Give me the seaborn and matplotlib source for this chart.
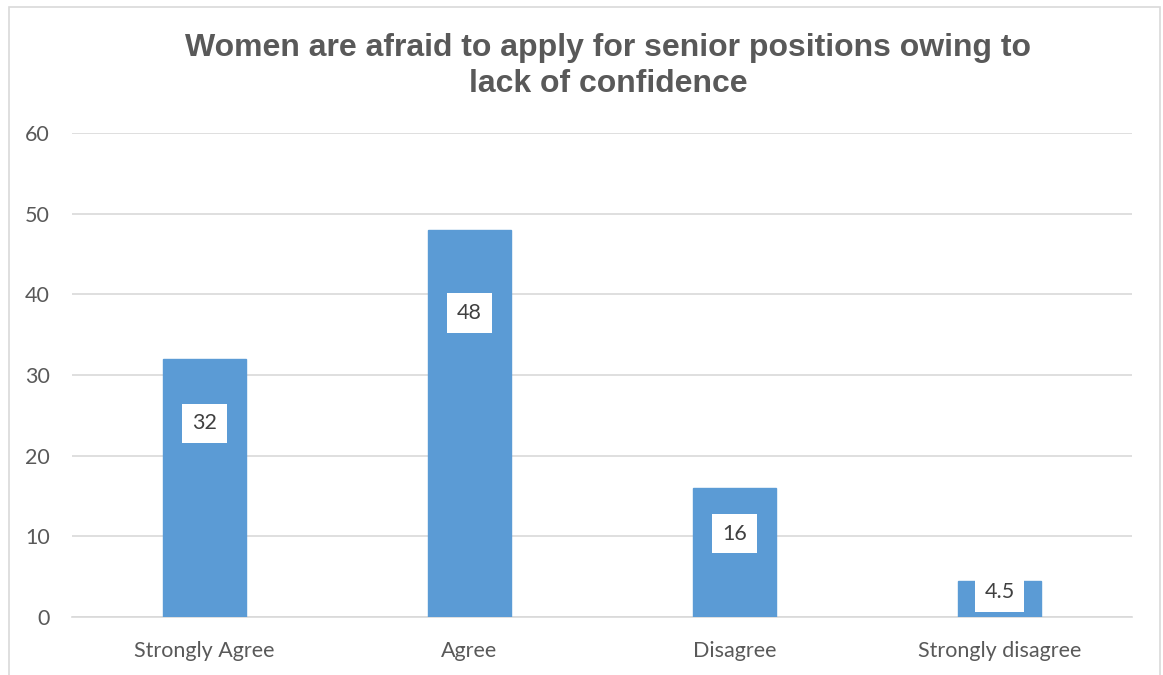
import matplotlib
matplotlib.use("Agg")
import matplotlib.pyplot as plt
import seaborn as sns
import pandas as pd
from matplotlib.patches import Rectangle

categories = ["Strongly Agree", "Agree", "Disagree", "Strongly disagree"]
values = [32, 48, 16, 4.5]
value_labels = ["32", "48", "16", "4.5"]
label_y = [24.0, 37.7, 10.35, 3.1]
yticks = [0, 10, 20, 30, 40, 50, 60]
title = "Women are afraid to apply for senior positions owing to\nlack of confidence"

sns.set_theme(style="white")
plt.rcParams['font.family'] = ['Lato', 'DejaVu Sans']

df = pd.DataFrame({"cat": categories, "val": values})

fig = plt.figure(figsize=(11.63, 6.75), dpi=100)
ax = fig.add_axes([72/1163, 1-617/675, (1132-72)/1163, (617-133)/675])

sns.barplot(data=df, x="cat", y="val", color="#5B9BD5", width=0.31,
            saturation=1, ax=ax, zorder=3)
for p in ax.patches:
    p.set_edgecolor("#5B9BD5")

ax.set_ylim(0, 60)
ax.set_yticks(yticks)
ax.set_xlim(-0.5, 3.5)
ax.yaxis.grid(True, color="#D9D9D9", linewidth=1.2, zorder=0)
ax.set_axisbelow(True)
for s in ["top", "right", "left"]:
    ax.spines[s].set_visible(False)
ax.spines["bottom"].set_color("#D9D9D9")
ax.spines["bottom"].set_linewidth(1.2)
ax.set_xlabel("")
ax.set_ylabel("")
ax.tick_params(axis="both", length=0, labelsize=15.5, colors="#595959")
ax.tick_params(axis="y", pad=16)
ax.tick_params(axis="x", pad=17)

for i, (y, lab) in enumerate(zip(label_y, value_labels)):
    ax.text(i, y, lab, ha="center", va="center", fontsize=15.5,
            color="#404040", zorder=5,
            bbox=dict(boxstyle="square,pad=0.45", fc="white", ec="none"))

fig.text(0.523, 1 - 66/675, title, ha="center", va="center",
         fontsize=23, fontweight="bold", color="#595959",
         family=["Liberation Sans", "DejaVu Sans"], linespacing=1.25)

fig.patches.append(Rectangle((9/1163, -0.02), (1160-9)/1163, 1 - 7/675 + 0.02,
                             transform=fig.transFigure, fill=False,
                             edgecolor="#D9D9D9", linewidth=1.2))

fig.savefig("out.png", dpi=100)
